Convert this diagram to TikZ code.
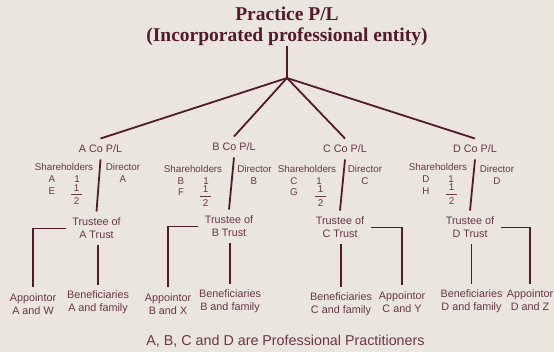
\documentclass[tikz,border=0pt]{standalone}
\usepackage{fontspec}
\setmainfont{Liberation Sans}
\newfontfamily\serifbold{Liberation Serif}
\usepackage{tikz}
\definecolor{paper}{HTML}{EAE5DF}
\definecolor{wine}{HTML}{521A2B}
\definecolor{ink}{HTML}{6B3545}
\tikzset{
  link/.style={draw=wine, line width=1.8pt},
  ttl/.style={text=wine, font=\serifbold\bfseries\fontsize{19.5}{20.5}\selectfont, align=center, inner sep=0pt},
  lbl/.style={text=ink, font=\fontsize{10.8}{13}\selectfont, align=center, inner sep=0pt, outer sep=6.5pt},
  sm/.style={text=ink, font=\fontsize{9.8}{11.8}\selectfont, inner sep=0pt},
  half/.style={sm, align=center, font=\fontsize{9.8}{6}\selectfont},
  note/.style={text=ink, font=\fontsize{14.3}{17}\selectfont, inner sep=0pt}
}

\begin{document}
\begin{tikzpicture}[x=1pt,y=-1pt]
\fill[paper] (0,0) rectangle (554,352);
\useasboundingbox (0,0) rectangle (554,352);

% practice at the top
\node[ttl] (prac) at (287,26.4) {Practice P/L\\(Incorporated professional entity)};
\coordinate (hub) at (287,78);

% companies
\node[lbl] (aco) at (100.5,149) {A Co P/L};
\node[lbl] (bco) at (234,147) {B Co P/L};
\node[lbl] (cco) at (345,149) {C Co P/L};
\node[lbl] (dco) at (475,149) {D Co P/L};

% A shares and director
\node[sm] (ash) at (64,166.7) {Shareholders};
\node[sm] (adir) at (123,166.7) {Director};
\node[sm] (asa) at (52,178.7) {A};
\node[sm] (asa1) at (77,178.7) {1};
\node[sm] (ada) at (123,178.7) {A};
\node[sm] (ase) at (52,190.7) {E};
\node[half] (asef) at (76.5,194.7) {1\\\rule[2pt]{11pt}{0.9pt}\\2};

% B shares and director
\node[sm] (bsh) at (193,168.7) {Shareholders};
\node[sm] (bdir) at (254.5,168.7) {Director};
\node[sm] (bsb) at (181,180.7) {B};
\node[sm] (bsb1) at (206,180.7) {1};
\node[sm] (bdb) at (254,180.7) {B};
\node[sm] (bsf) at (181,192.3) {F};
\node[half] (bsff) at (205.5,196.3) {1\\\rule[2pt]{11pt}{0.9pt}\\2};

% C shares and director
\node[sm] (csh) at (307,168.7) {Shareholders};
\node[sm] (cdir) at (365,168.7) {Director};
\node[sm] (csc) at (294,180.7) {C};
\node[sm] (csc1) at (319,180.7) {1};
\node[sm] (cdc) at (365,180.7) {C};
\node[sm] (csg) at (294,192.3) {G};
\node[half] (csgf) at (320.5,196.3) {1\\\rule[2pt]{11pt}{0.9pt}\\2};

% D shares and director
\node[sm] (dsh) at (438,166.7) {Shareholders};
\node[sm] (ddir) at (497,168.7) {Director};
\node[sm] (dsd) at (426,178.7) {D};
\node[sm] (dsd1) at (451,178.7) {1};
\node[sm] (ddd) at (497,180.7) {D};
\node[sm] (dsh2) at (426,190.7) {H};
\node[half] (dshf) at (451.5,194.3) {1\\\rule[2pt]{11pt}{0.9pt}\\2};

% trustees
\node[lbl] (atr) at (96.5,228.5) {Trustee of\\A Trust};
\node[lbl] (btr) at (229,226.5) {Trustee of\\B Trust};
\node[lbl] (ctr) at (340,227.5) {Trustee of\\C Trust};
\node[lbl] (dtr) at (470,227.5) {Trustee of\\D Trust};

% appointors and beneficiaries
\node[lbl] (aap) at (33,304) {Appointor\\A and W};
\node[lbl] (aben) at (98,302.6) {Beneficiaries\\A and family};
\node[lbl] (bap) at (168,304) {Appointor\\B and X};
\node[lbl] (bben) at (230,301.6) {Beneficiaries\\B and family};
\node[lbl] (cben) at (341,304.6) {Beneficiaries\\C and family};
\node[lbl] (cap) at (402,302) {Appointor\\C and Y};
\node[lbl] (dben) at (471.5,301.6) {Beneficiaries\\D and family};
\node[lbl] (dap) at (530,300.5) {Appointor\\D and Z};

\node[note] (note) at (285.5,341) {A, B, C and D are Professional Practitioners};

% connectors
\draw[link] (prac.south) -- (hub);
\foreach \c in {aco,bco,cco,dco}
  \draw[link] (hub) -- (\c.north);
\draw[link] (aco.south) -- (atr.north);
\draw[link] (bco.south) -- (btr.north);
\draw[link] (cco.south) -- (ctr.north);
\draw[link] (dco.south) -- (dtr.north);
\draw[link] (atr.west) -| (aap.north);
\draw[link] (btr.west) -| (bap.north);
\draw[link] (ctr.east) -| (cap.north);
\draw[link] (dtr.east) -| (dap.north);
\draw[link] (aben.north) -- (aben.north |- atr.south);
\draw[link] (bben.north) -- (bben.north |- btr.south);
\draw[link] (cben.north) -- (cben.north |- ctr.south);
\draw[link] (dben.north) -- (dben.north |- dtr.south);
\end{tikzpicture}
\end{document}
